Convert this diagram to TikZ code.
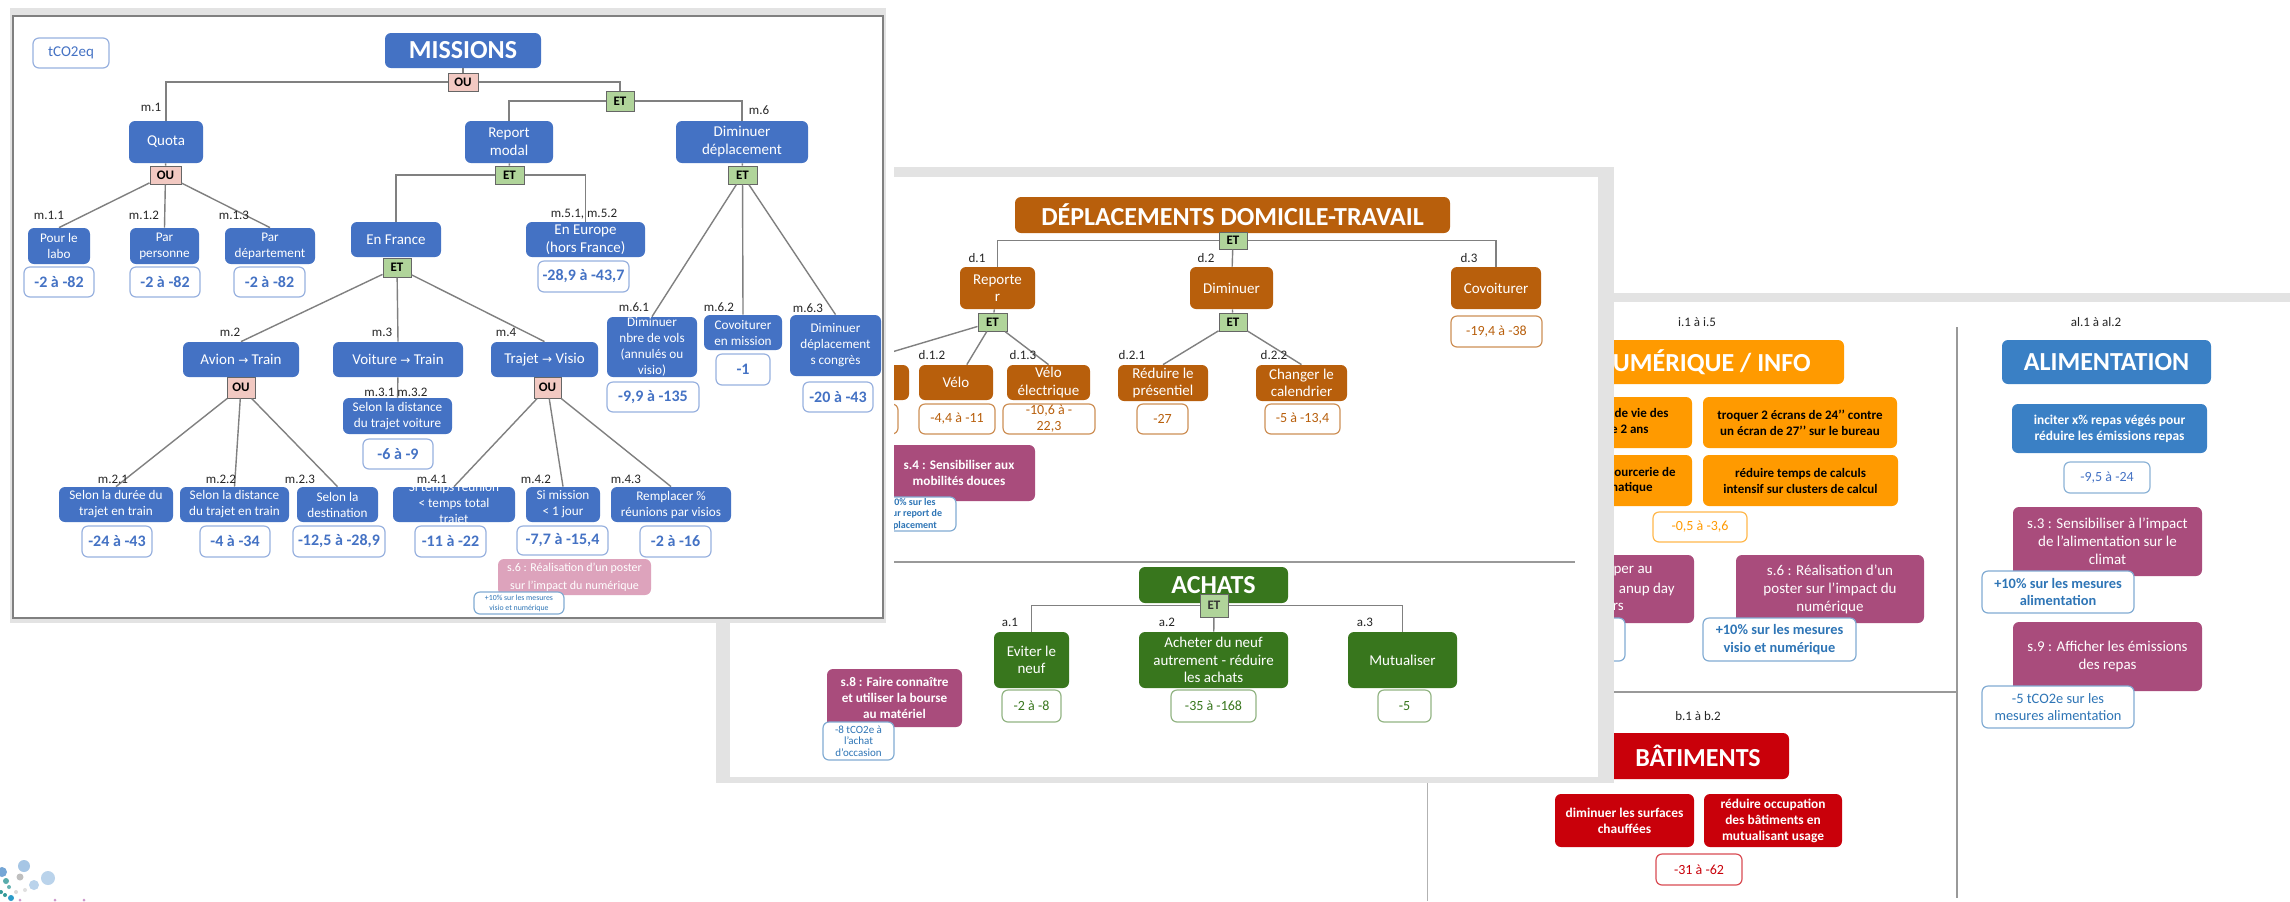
\documentclass[tikz,border=0pt]{standalone}
\usepackage{fontspec}
\setmainfont{Carlito}
\newfontfamily\arrowf[Scale=0.8]{DejaVu Sans}
\definecolor{cblue}{HTML}{4472C4}
\definecolor{cbrown}{HTML}{B85F0C}
\definecolor{cgreen}{HTML}{38761D}
\definecolor{corange}{HTML}{FF9A00}
\definecolor{cmag}{HTML}{A94C7C}
\definecolor{cpink}{HTML}{DDA3BC}
\definecolor{cred}{HTML}{C9000A}
\definecolor{calim}{HTML}{3A80C5}
\definecolor{cband}{HTML}{E3E3E3}
\definecolor{cline}{HTML}{808080}
\definecolor{cet}{HTML}{B0D49A}
\definecolor{cou}{HTML}{F2C9C2}
\definecolor{cnote}{HTML}{2E75B6}
\tikzset{
  fs/.style 2 args={font=\fontsize{#1}{#2}\selectfont},
  fb/.style 2 args={font=\fontsize{#1}{#2}\selectfont\bfseries},
  base/.style={rectangle,rounded corners=3pt,align=center,inner sep=0pt},
  title/.style={base,text=white,fb={13}{15}},
  bluebig/.style={base,fill=cblue,text=white,fs={7.5}{9}},
  bluesm/.style={base,fill=cblue,text=white,fs={6.6}{8}},
  brownbox/.style={base,fill=cbrown,text=white,fs={7.5}{8.6}},
  greenbox/.style={base,fill=cgreen,text=white,fs={7.5}{8.8}},
  magbox/.style={base,fill=cmag,text=white,fs={7.5}{9}},
  magbold/.style={base,fill=cmag,text=white,fb={6.6}{8}},
  orbox/.style={base,fill=corange,text=black,fb={6.5}{8}},
  redbox/.style={base,fill=cred,text=white,fb={6.7}{8}},
  alimbox/.style={base,fill=calim,text=white,fb={6.7}{8}},
  valbase/.style={base,fill=white,line width=0.6pt},
  valblue/.style={valbase,draw=cblue!55,text=cblue,fb={8}{9}},
  vallight/.style={valbase,draw=cnote!55,text=cblue,fs={7}{8.5}},
  valbrown/.style={valbase,draw=cbrown!70,text=cbrown,fs={7}{8}},
  valgreen/.style={valbase,draw=cgreen!55,text=cgreen,fs={7}{8}},
  valorange/.style={valbase,draw=corange!70,text=corange,fs={7}{8}},
  valred/.style={valbase,draw=cred!70,text=cred,fs={7}{8}},
  notebox/.style={valbase,draw=cnote!60,text=cnote,fb={7.2}{8.6}},
  notesm/.style={valbase,draw=cnote!60,text=cnote,fs={5.5}{5.8}},
  notetiny/.style={valbase,draw=cnote!60,text=cnote,fs={3.9}{5}},
  pinkbox/.style={base,fill=cpink,text=white,fs={6}{9}},
  gateet/.style={rectangle,fill=cet,draw=black!60,line width=0.5pt,inner sep=0pt,text=black,fb={6.5}{7}},
  gateou/.style={rectangle,fill=cou,draw=black!60,line width=0.5pt,inner sep=0pt,text=black,fb={6.5}{7}},
  lab/.style={inner sep=0pt,text=black!85,fs={6.5}{7}},
  frag/.style={inner sep=0pt,anchor=east},
  conn/.style={draw=cline,line width=0.7pt},
  divider/.style={draw=black!40,line width=0.7pt},
  overtext/.style={inner sep=0pt,align=center,text=white,fs={6.6}{8}}
}
\newcommand{\bx}[7]{%
  \pgfmathsetmacro\cx{(#3+#5)/2}\pgfmathsetmacro\cy{(#4+#6)/2}%
  \pgfmathsetmacro\ww{(#5-#3)*0.5}\pgfmathsetmacro\hh{(#6-#4)*0.5}%
  \node[#2,minimum width=\ww pt,minimum height=\hh pt] (#1) at (\cx,\cy) {#7};}
\newcommand{\lb}[4]{\node[lab] (#1) at (#2,#3) {#4};}
\begin{document}
\begin{tikzpicture}[x=0.5pt,y=-0.5pt]
\useasboundingbox (0,0) rectangle (2290,901);
\fill[white] (0,0) rectangle (2290,901);

% ---------- logo
\fill[calim!45] (24,866) circle (6);
\fill[calim!35] (48,878) circle (7);
\fill[calim!35] (34,885) circle (5);
\fill[black!25] (20,877) circle (3.5);
\fill[calim!70] (2,872) circle (5);
\fill[teal!65] (6,881) circle (3);
\fill[teal!60] (9,887) circle (2);
\fill[teal!80] (1,892) circle (2);
\fill[teal!80] (5,895) circle (2);
\fill[cyan!60!teal] (11,898) circle (3);
\fill[black!15] (16,892) circle (2);
\fill[black!12] (25,890) circle (2);
\fill[violet!40] (20,900) circle (1.5);
\fill[violet!40] (55,900) circle (1.5);
\fill[violet!40] (84,900) circle (1.5);

% ---------- right slide
\fill[cband] (1599,293) rectangle (2290,302);
\draw[draw=black!30,line width=0.5pt] (1427,783) -- (1427,901);
\draw[divider] (1957,327) -- (1957,898);
\draw[divider] (1614,692) -- (1957,692);
\lb{li}{1697}{322}{i.1 à i.5}
\lb{lal}{2096}{322}{al.1 à al.2}
\lb{lb}{1698}{716}{b.1 à b.2}
\bx{numb}{title,fill=corange}{1500}{340}{1844}{384}{}
\node[inner sep=0pt,anchor=east,text=white,fb={13}{15}] (numt) at (1811,362) {UMÉRIQUE / INFO};
\bx{or1}{orbox}{1500}{397}{1692}{448}{}
\node[frag,orbox,fill=none] (or1a) at (1669,413) {de vie des};
\node[frag,orbox,fill=none] (or1b) at (1649,429) {e 2 ans};
\bx{or2}{orbox}{1703}{397}{1897}{448}{troquer 2 écrans de 24’’ contre\\un écran de 27’’ sur le bureau}
\bx{or3}{orbox}{1500}{455}{1692}{506}{}
\node[frag,orbox,fill=none] (or3a) at (1676,472) {ourcerie de};
\node[frag,orbox,fill=none] (or3b) at (1653,488) {natique};
\bx{or4}{orbox}{1703}{455}{1898}{506}{réduire temps de calculs\\intensif sur clusters de calcul}
\bx{vor}{valorange}{1653}{512}{1747}{542}{-0,5 à -3,6}
\bx{m5}{magbox}{1500}{555}{1694}{623}{}
\node[frag,text=white,fs={7.5}{9}] (m5a) at (1653,571) {per au};
\node[frag,text=white,fs={7.5}{9}] (m5b) at (1675,589) {anup day};
\node[frag,text=white,fs={7.5}{9}] (m5c) at (1624,607) {rs};
\bx{n5}{notebox}{1480}{618}{1625}{661}{}
\bx{s6}{magbox}{1736}{555}{1924}{623}{s.6 : Réalisation d’un\\poster sur l’impact du\\numérique}
\bx{n6}{notebox}{1703}{618}{1856}{661}{+10\% sur les mesures\\visio et numérique}
\bx{alim}{title,fill=calim}{2002}{340}{2211}{384}{ALIMENTATION}
\bx{inc}{alimbox}{2012}{404}{2207}{453}{inciter x\% repas végés pour\\réduire les émissions repas}
\bx{valim}{vallight}{2064}{462}{2150}{493}{-9,5 à -24}
\bx{s3}{magbox}{2013}{507}{2202}{576}{s.3 : Sensibiliser à l’impact\\de l’alimentation sur le\\climat}
\bx{n3}{notebox}{1982}{571}{2134}{613}{+10\% sur les mesures\\alimentation}
\bx{s9}{magbox}{2013}{622}{2202}{691}{s.9 : Afficher les émissions\\des repas}
\bx{n9}{notebox,fs={7.2}{8.6}}{1982}{686}{2134}{728}{-5 tCO2e sur les\\mesures alimentation}
\bx{bat}{title,fill=cred}{1607}{733}{1789}{779}{BÂTIMENTS}
\bx{bat1}{redbox}{1555}{794}{1694}{847}{diminuer les surfaces\\chauffées}
\bx{bat2}{redbox}{1704}{794}{1842}{847}{réduire occupation\\des bâtiments en\\mutualisant usage}
\bx{vbat}{valred}{1656}{854}{1742}{885}{-31 à -62}

% ---------- middle slide
\fill[cband] (716,167) rectangle (1614,783);
\fill[white] (730,177) rectangle (1598,777);
\draw[divider] (894,562) -- (1575,562);
\bx{dt}{title,fill=cbrown}{1015}{197}{1450}{233}{DÉPLACEMENTS DOMICILE-TRAVAIL}
\bx{etd}{gateet,minimum width=14pt}{1219}{232}{1247}{249}{ET}
\bx{d1}{brownbox}{960}{267}{1035}{309}{Reporte\\r}
\bx{d2}{brownbox}{1190}{267}{1273}{309}{Diminuer}
\bx{d3}{brownbox}{1451}{267}{1541}{309}{Covoiturer}
\bx{vd3}{valbrown}{1451}{316}{1542}{347}{-19,4 à -38}
\draw[conn] (etd) -| (d1);
\draw[conn] (etd) -| (d3);
\draw[conn] (etd) -- (d2);
\lb{ld1}{977}{258}{d.1}
\lb{ld2}{1206}{258}{d.2}
\lb{ld3}{1469}{258}{d.3}
\bx{etd1}{gateet}{978}{313}{1007}{331}{ET}
\bx{etd2}{gateet}{1219}{313}{1247}{331}{ET}
\bx{d11}{brownbox}{790}{365}{909}{400}{}
\bx{vd11}{valbrown}{790}{404}{898}{434}{}
\bx{d12}{brownbox}{919}{365}{993}{400}{Vélo}
\bx{d13}{brownbox}{1007}{365}{1090}{400}{Vélo\\électrique}
\bx{d21}{brownbox}{1118}{365}{1208}{401}{Réduire le\\présentiel}
\bx{d22}{brownbox}{1256}{365}{1347}{401}{Changer le\\calendrier}
\draw[conn] (d1) -- (etd1);
\draw[conn] (d2) -- (etd2);
\draw[conn] (etd1) -- (d11.north);
\draw[conn] (etd1) -- (d12);
\draw[conn] (etd1) -- (d13.north);
\draw[conn] (etd2) -- (d21.north);
\draw[conn] (etd2) -- (d22.north);
\lb{ld12}{932}{355}{d.1.2}
\lb{ld13}{1023}{355}{d.1.3}
\lb{ld21}{1132}{355}{d.2.1}
\lb{ld22}{1274}{355}{d.2.2}
\bx{vd12}{valbrown}{919}{404}{995}{434}{-4,4 à -11}
\bx{vd13}{valbrown}{1003}{404}{1095}{434}{-10,6 à -\\22,3}
\bx{vd21}{valbrown}{1137}{404}{1188}{434}{-27}
\bx{vd22}{valbrown}{1265}{404}{1340}{434}{-5 à -13,4}
\bx{s4}{magbold}{883}{445}{1035}{501}{s.4 : Sensibiliser aux\\mobilités douces}
\bx{n4}{notesm,fb={5}{5.8}}{874}{497}{956}{531}{0\% sur les\\sur report de\\placement}
\bx{ach}{title,fill=cgreen}{1139}{567}{1288}{603}{ACHATS}
\bx{a1}{greenbox}{994}{632}{1069}{688}{Eviter le\\neuf}
\bx{a2}{greenbox}{1139}{632}{1288}{688}{Acheter du neuf\\autrement - réduire\\les achats}
\bx{a3}{greenbox}{1348}{632}{1457}{688}{Mutualiser}
\bx{eta}{gateet,text=black!80}{1200}{594}{1228}{617}{ET}
\draw[conn] (eta) -| (a1);
\draw[conn] (eta) -| (a3);
\draw[conn] (eta) -- (a2);
\lb{la1}{1010}{622}{a.1}
\lb{la2}{1167}{622}{a.2}
\lb{la3}{1365}{622}{a.3}
\bx{va1}{valgreen}{1002}{690}{1061}{722}{-2 à -8}
\bx{va2}{valgreen}{1171}{690}{1256}{722}{-35 à -168}
\bx{va3}{valgreen}{1378}{690}{1431}{722}{-5}
\bx{s8}{magbold}{827}{669}{962}{727}{s.8 : Faire connaître\\et utiliser la bourse\\au matériel}
\bx{n8}{notesm}{823}{722}{894}{760}{-8 tCO2e à\\l’achat\\d’occasion}

% ---------- missions slide
\fill[white] (883,0) rectangle (894,621);
\fill[cband] (10,8) rectangle (886,623);
\filldraw[fill=white,draw=black!50,line width=0.8pt] (13,16) rectangle (883,618);
\bx{co}{valbase,draw=cblue!55,text=cblue,fs={7.5}{9}}{33}{38}{109}{68}{tCO2eq}
\bx{mis}{title,fill=cblue}{385}{33}{541}{68}{MISSIONS}
\bx{ou1}{gateou}{448}{73}{478}{91}{OU}
\bx{et1}{gateet}{606}{91}{634}{111}{ET}
\bx{q}{bluebig}{129}{121}{203}{163}{Quota}
\bx{rep}{bluebig}{465}{121}{553}{163}{Report\\modal}
\bx{dim}{bluebig}{676}{121}{808}{163}{Diminuer\\déplacement}
\draw[conn] (mis) -- (ou1);
\draw[conn] (ou1) -| (q);
\draw[conn] (ou1) -| (et1);
\draw[conn] (et1) -| (rep);
\draw[conn] (et1) -| (dim);
\lb{lm1}{151}{107}{m.1}
\lb{lm6}{759}{110}{m.6}
\bx{ouq}{gateou}{150}{166}{181}{184}{OU}
\bx{etr}{gateet}{495}{166}{524}{184}{ET}
\bx{etm}{gateet}{728}{166}{757}{184}{ET}
\bx{q1}{bluesm}{28}{228}{90}{264}{Pour le\\labo}
\bx{q2}{bluesm}{130}{228}{199}{264}{Par\\personne}
\bx{q3}{bluesm}{225}{228}{315}{264}{Par\\département}
\bx{vq1}{valblue}{24}{267}{94}{297}{-2 à -82}
\bx{vq2}{valblue}{130}{267}{200}{297}{-2 à -82}
\bx{vq3}{valblue}{234}{267}{305}{297}{-2 à -82}
\draw[conn] (q) -- (ouq);
\draw[conn] (rep) -- (etr);
\draw[conn] (dim) -- (etm);
\draw[conn] (ouq) -- (q1.north);
\draw[conn] (ouq) -- (q2.north);
\draw[conn] (ouq) -- (q3.north);
\lb{lm11}{49}{215}{m.1.1}
\lb{lm12}{144}{215}{m.1.2}
\lb{lm13}{234}{215}{m.1.3}
\bx{fr}{bluebig}{351}{222}{441}{257}{En France}
\bx{eu}{bluebig}{526}{222}{645}{257}{En Europe\\(hors France)}
\bx{veu}{valblue}{538}{261}{629}{292}{-28,9 à -43,7}
\bx{etf}{gateet}{383}{258}{411}{277}{ET}
\draw[conn] (etr) -| (fr);
\draw[conn] (etr) -| (eu);
\lb{lm51}{584}{214}{m.5.1, m.5.2}
\bx{d61}{bluesm}{607}{317}{697}{377}{Diminuer\\nbre de vols\\(annulés ou\\visio)}
\bx{d62}{bluesm}{704}{315}{782}{350}{Covoiturer\\en mission}
\bx{d63}{bluesm}{790}{315}{881}{376}{Diminuer\\déplacement\\s congrès}
\draw[conn] (etm) -- (d61.north);
\draw[conn] (etm) -- (d62.north);
\draw[conn] (etm) -- (d63.north);
\lb{lm61}{634}{307}{m.6.1}
\lb{lm62}{719}{307}{m.6.2}
\lb{lm63}{808}{308}{m.6.3}
\bx{vd61}{valblue}{607}{382}{699}{412}{-9,9 à -135}
\bx{vd62}{valblue}{716}{354}{770}{385}{-1}
\bx{vd63}{valblue}{803}{382}{873}{412}{-20 à -43}
\bx{av}{bluebig}{183}{342}{299}{377}{Avion {\arrowf→} Train}
\bx{vo}{bluebig}{333}{342}{463}{377}{Voiture {\arrowf→} Train}
\bx{tr}{bluebig}{491}{342}{598}{377}{Trajet {\arrowf→} Visio}
\draw[conn] (etf) -- (av.north);
\draw[conn] (etf) -- (vo.north);
\draw[conn] (etf) -- (tr.north);
\lb{lm2}{230}{332}{m.2}
\lb{lm3}{382}{332}{m.3}
\lb{lm4}{506}{332}{m.4}
\bx{oua}{gateou}{227}{377}{255}{398}{OU}
\bx{out}{gateou}{534}{377}{561}{398}{OU}
\bx{vs}{bluesm}{343}{398}{452}{434}{Selon la distance\\du trajet voiture}
\draw[conn] (vo) -- (vs);
\lb{lm31}{396}{392}{m.3.1 m.3.2}
\bx{vvs}{valblue}{363}{439}{433}{469}{-6 à -9}
\bx{a21}{bluesm}{59}{487}{173}{522}{Selon la durée du\\trajet en train}
\bx{a22}{bluesm}{180}{487}{289}{522}{Selon la distance\\du trajet en train}
\bx{a23}{bluesm}{297}{487}{378}{522}{Selon la\\destination}
\bx{t41}{bluesm}{393}{487}{515}{522}{}
\node[overtext] (t41t) at (454,504.5) {Si temps réunion\\< temps total\\trajet};
\bx{t42}{bluesm}{526}{487}{600}{522}{Si mission\\< 1 jour}
\bx{t43}{bluesm}{611}{487}{731}{522}{Remplacer \%\\réunions par visios}
\draw[conn] (oua) -- (a21.north);
\draw[conn] (oua) -- (a22.north);
\draw[conn] (oua) -- (a23.north);
\draw[conn] (out) -- (t41.north);
\draw[conn] (out) -- (t42.north);
\draw[conn] (out) -- (t43.north);
\lb{lm21}{113}{479}{m.2.1}
\lb{lm22}{221}{479}{m.2.2}
\lb{lm23}{300}{479}{m.2.3}
\lb{lm41}{432}{479}{m.4.1}
\lb{lm42}{536}{479}{m.4.2}
\lb{lm43}{626}{479}{m.4.3}
\bx{va21}{valblue}{82}{526}{152}{557}{-24 à -43}
\bx{va22}{valblue}{200}{526}{270}{557}{-4 à -34}
\bx{va23}{valblue}{293}{526}{385}{557}{-12,5 à -28,9}
\bx{vt41}{valblue}{415}{526}{486}{557}{-11 à -22}
\bx{vt42}{valblue}{517}{526}{608}{555}{-7,7 à -15,4}
\bx{vt43}{valblue}{640}{526}{711}{557}{-2 à -16}
\bx{pk}{pinkbox}{498}{559}{651}{595}{s.6 : Réalisation d’un poster\\sur l’impact du numérique}
\bx{ntiny}{notetiny}{474}{592}{564}{614}{+10\% sur les mesures\\visio et numérique}
\end{tikzpicture}
\end{document}
